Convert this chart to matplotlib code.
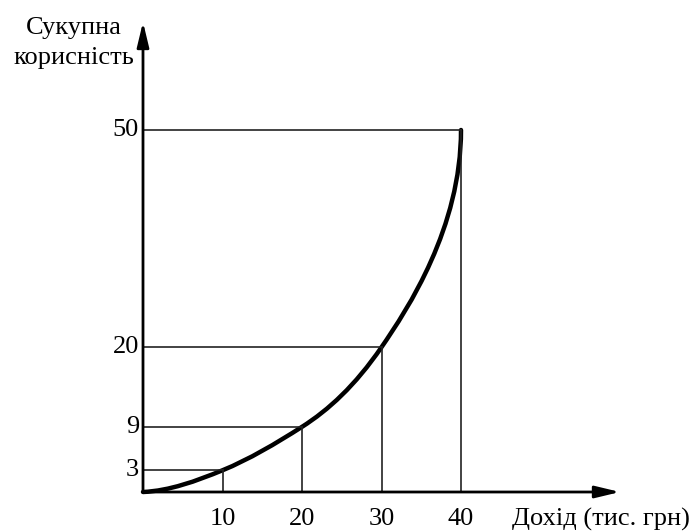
#!/usr/bin/env python3
"""Total utility vs income: hand-drawn style economics diagram."""

import matplotlib
matplotlib.use("Agg")
import matplotlib.pyplot as plt
from matplotlib.path import Path
from matplotlib.patches import PathPatch

# values
income = [0, 10, 20, 30, 40]
utility = [0, 3, 9, 20, 50]
x_ticks = [10, 20, 30, 40]
y_ticks = [3, 9, 20, 50]
x_label = "Дохід (тис. грн)"
y_label = "Сукупна\nкорисність"

# curve shape: slope at each point (None = vertical end)
curve_slopes = [0.05, 0.45, 0.7, 1.6, None]

plt.rcParams["font.family"] = ["Liberation Serif", "DejaVu Serif"]

W, H = 692, 531
fig = plt.figure(figsize=(W / 100, H / 100), dpi=100)
ax = fig.add_axes([0, 0, 1, 1])
ax.axis("off")

# pixel mapping: origin at (143, 492), 7.95 px per x unit, 7.24 px per y unit
sx, sy = 7.95, 7.24
ox, oy = 143, H - 492
ax.set_xlim(-ox / sx, (W - ox) / sx)
ax.set_ylim(-oy / sy, (H - oy) / sy)

# axes with arrows
x_end = (620 - ox) / sx
y_end = (H - 22 - oy) / sy
arrow = dict(arrowstyle="-|>,head_length=1.5,head_width=0.36",
             lw=2, color="black", shrinkA=0, shrinkB=0)
ax.annotate("", xy=(x_end, 0), xytext=(0, 0), arrowprops=arrow)
ax.annotate("", xy=(0, y_end), xytext=(0, 0), arrowprops=arrow)

# guide lines from each point to both axes
for xv, yv in zip(income[1:], utility[1:]):
    ax.plot([0, xv], [yv, yv], color="#222222", lw=1.2)
    ax.plot([xv, xv], [0, yv], color="#222222", lw=1.2)

# smooth convex curve through the points as cubic Bezier segments
verts = [(income[0], utility[0])]
codes = [Path.MOVETO]
for i in range(len(income) - 1):
    x0, y0, x1, y1 = income[i], utility[i], income[i + 1], utility[i + 1]
    h = (x1 - x0) / 3
    c1 = (x0 + h, y0 + curve_slopes[i] * h)
    if curve_slopes[i + 1] is None:
        c2 = (x1, y1 - 0.45 * (y1 - y0))
    else:
        c2 = (x1 - h, y1 - curve_slopes[i + 1] * h)
    verts += [c1, c2, (x1, y1)]
    codes += [Path.CURVE4] * 3
ax.add_patch(PathPatch(Path(verts, codes), fill=False, lw=3.2,
                       edgecolor="black", capstyle="round"))

# tick labels
for xv in x_ticks:
    ax.text(xv, -27 / sy, str(xv), ha="center", va="center", fontsize=19)
for yv in y_ticks:
    ax.text(-4 / sx, yv, str(yv), ha="right", va="center", fontsize=19)

ax.text((601 - ox) / sx, -27 / sy, x_label, ha="center", va="center",
        fontsize=19)
ax.text((74 - ox) / sx, (H - 43 - oy) / sy, y_label, ha="center",
        va="center", fontsize=19, linespacing=1.45)

fig.savefig("out.png", dpi=100)
